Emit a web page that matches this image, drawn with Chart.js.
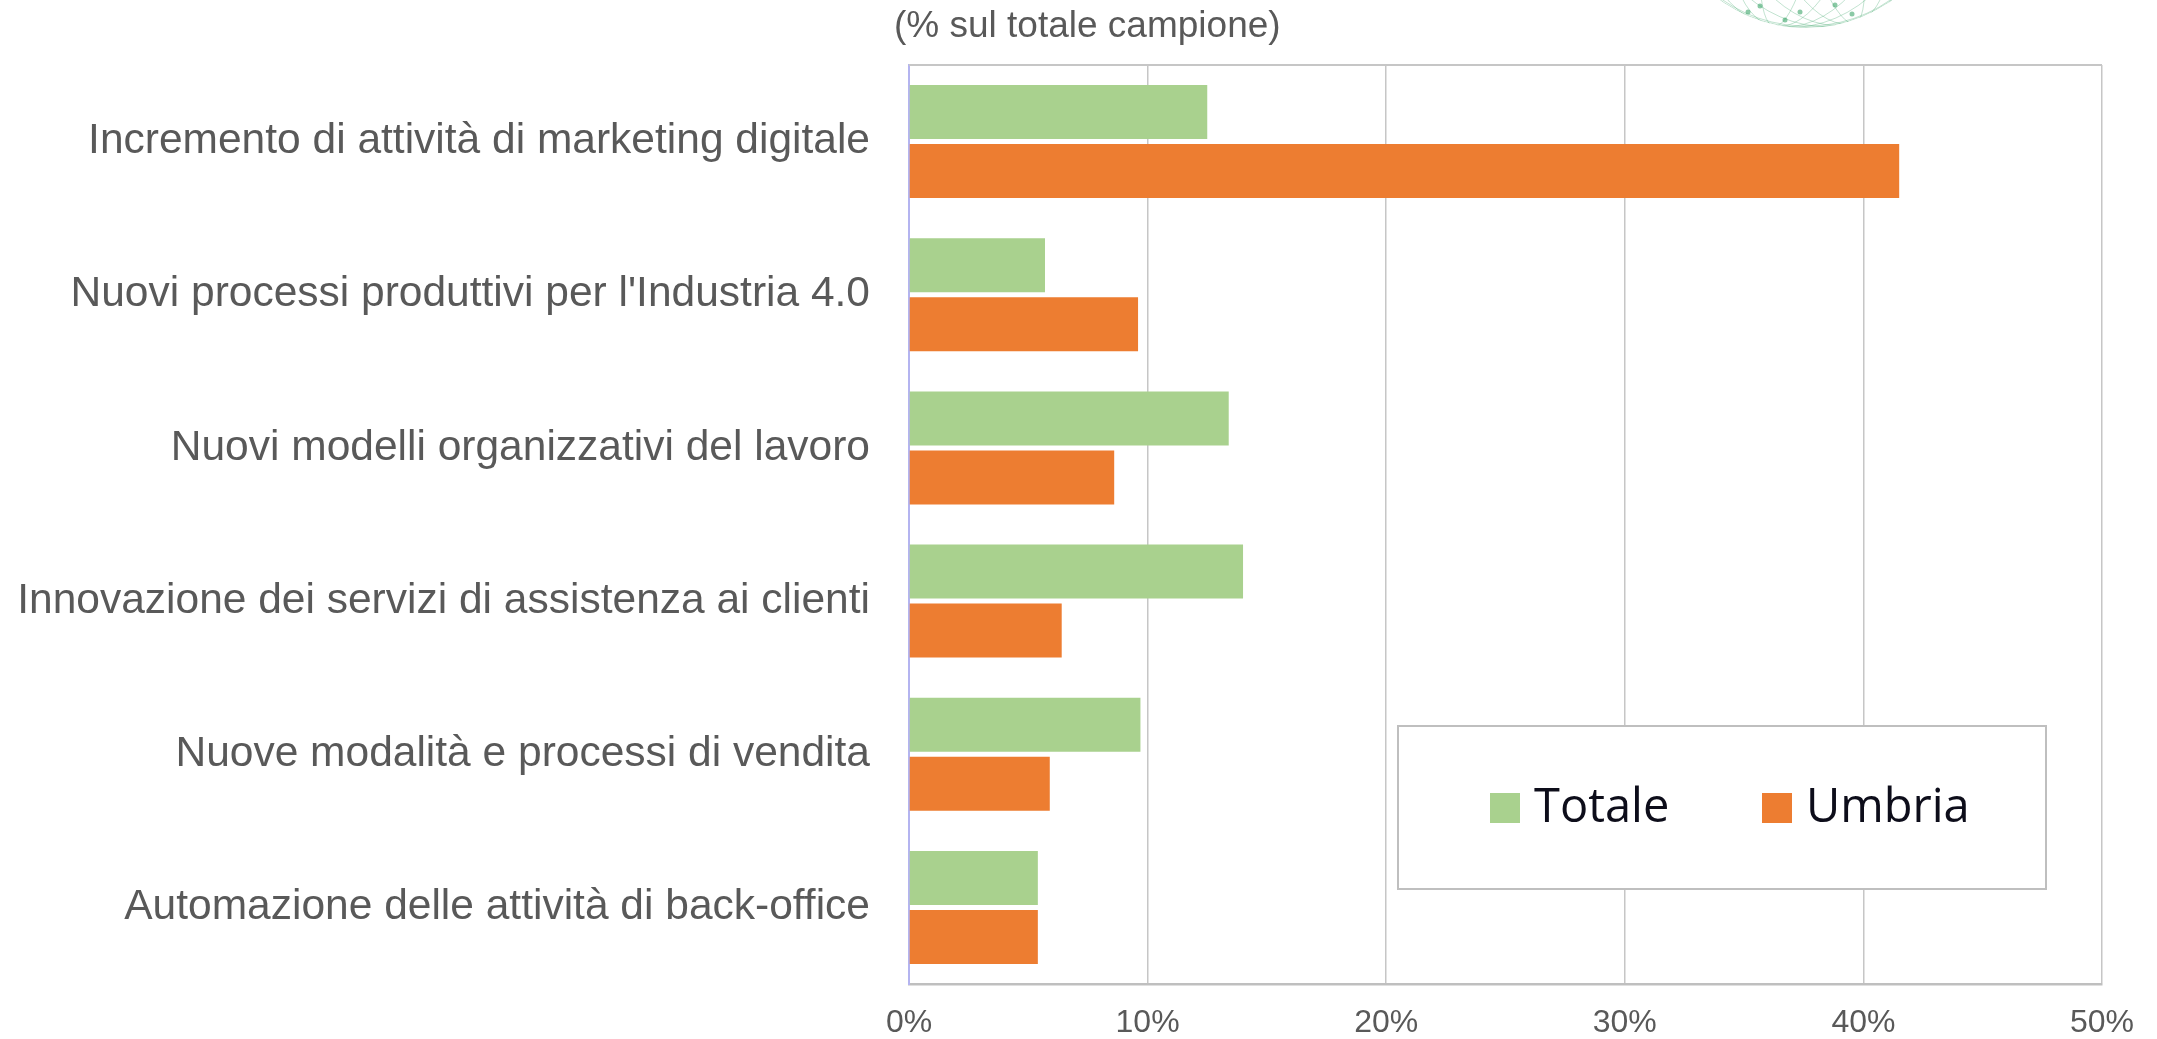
<!DOCTYPE html>
<html lang="it">
<head>
<meta charset="utf-8">
<title>Trasformazione digitale</title>
<script src="https://cdn.jsdelivr.net/npm/chart.js@4.4.1/dist/chart.umd.min.js"></script>
<style>
  html, body { margin: 0; padding: 0; background: #fff; }
  #wrap { width: 2157px; height: 1039px; }
</style>
</head>
<body>
<div id="wrap"><canvas id="chart" width="2157" height="1039"></canvas></div>
<script>
// Data (values in %)
const categories = [
    'Incremento di attività di marketing digitale',
    "Nuovi processi produttivi per l'Industria 4.0",
    'Nuovi modelli organizzativi del lavoro',
    'Innovazione dei servizi di assistenza ai clienti',
    'Nuove modalità e processi di vendita',
    'Automazione delle attività di back-office'
];
const totale = [12.5, 5.7, 13.4, 14.0, 9.7, 5.4];
const umbria = [41.5, 9.6, 8.6, 6.4, 5.9, 5.4];
const seriesNames = ['Totale', 'Umbria'];
const seriesColors = ['#A9D18E', '#ED7D31'];
const xTicks = [0, 10, 20, 30, 40, 50];
const subtitle = '(% sul totale campione)';

const labelGray = '#595959';
const gridGray = '#C6C6C6';

// Subtitle, faint globe in the corner, plot top border and the boxed legend
const decorations = {
    id: 'decorations',
    beforeDraw(chart) {
        const ctx = chart.ctx;
        ctx.save();
        ctx.fillStyle = '#fff';
        ctx.fillRect(0, 0, chart.width, chart.height);

        // globe logo, only its bottom is visible
        const cx = 1806, cy = -120, r = 148;
        ctx.beginPath();
        ctx.arc(cx, cy, r, 0, Math.PI * 2);
        ctx.clip();
        ctx.strokeStyle = 'rgba(80, 175, 120, 0.35)';
        ctx.lineWidth = 1;
        ctx.beginPath();
        ctx.arc(cx, cy, r - 0.5, 0, Math.PI * 2);
        ctx.stroke();
        [0.2, 0.45, 0.68, 0.86].forEach(k => {
            ctx.beginPath();
            ctx.ellipse(cx - 10, cy, r * k, r, 0.15, 0, Math.PI * 2);
            ctx.stroke();
            ctx.beginPath();
            ctx.ellipse(cx + 12, cy, r * k, r, -0.25, 0, Math.PI * 2);
            ctx.stroke();
        });
        [10, 30, 52].forEach(d => {
            ctx.beginPath();
            ctx.ellipse(cx, cy + d, r * 0.96, r * 0.92, 0.05, 0, Math.PI * 2);
            ctx.stroke();
        });
        ctx.fillStyle = 'rgba(60, 165, 105, 0.6)';
        [[1760, 6], [1800, 12], [1835, 5], [1852, 14], [1785, 20], [1748, 12]].forEach(p => {
            ctx.beginPath();
            ctx.arc(p[0], p[1], 2.5, 0, Math.PI * 2);
            ctx.fill();
        });
        ctx.restore();

        ctx.save();
        ctx.font = '37px "Liberation Sans", Arial, sans-serif';
        ctx.fillStyle = labelGray;
        ctx.textBaseline = 'alphabetic';
        ctx.fillText(subtitle, 894, 37);
        ctx.restore();
    },
    afterDatasetsDraw(chart) {
        const ctx = chart.ctx;
        const a = chart.chartArea;
        ctx.save();
        ctx.strokeStyle = gridGray;
        ctx.lineWidth = 2;
        ctx.beginPath();
        ctx.moveTo(a.left, a.top);
        ctx.lineTo(a.right, a.top);
        ctx.stroke();

        // legend box
        const box = { x: 1398, y: 726, w: 648, h: 163 };
        ctx.fillStyle = '#fff';
        ctx.fillRect(box.x, box.y, box.w, box.h);
        ctx.strokeStyle = '#BFBFBF';
        ctx.lineWidth = 2;
        ctx.strokeRect(box.x, box.y, box.w, box.h);

        ctx.font = '47px "Open Sans", "Noto Sans", sans-serif';
        ctx.textBaseline = 'middle';
        const itemX = [box.x + 92, box.x + 364];
        const midY = box.y + 82;
        chart.data.datasets.forEach((ds, i) => {
            ctx.fillStyle = ds.backgroundColor;
            ctx.fillRect(itemX[i], midY - 15, 30, 30);
            ctx.fillStyle = '#0D0D1A';
            ctx.fillText(ds.label, itemX[i] + 44, midY + 1);
        });
        ctx.restore();
    }
};

new Chart(document.getElementById('chart'), {
    type: 'bar',
    data: {
        labels: categories,
        datasets: [
            { label: seriesNames[0], data: totale, backgroundColor: seriesColors[0] },
            { label: seriesNames[1], data: umbria, backgroundColor: seriesColors[1] }
        ]
    },
    options: {
        indexAxis: 'y',
        responsive: false,
        animation: false,
        barPercentage: 0.915,
        categoryPercentage: 0.77,
        layout: { padding: { top: 65, right: 55, left: 0, bottom: 0 } },
        plugins: {
            legend: { display: false },
            title: { display: false },
            tooltip: { enabled: false }
        },
        scales: {
            x: {
                min: xTicks[0],
                max: xTicks[xTicks.length - 1],
                afterBuildTicks(scale) {
                    scale.ticks = xTicks.map(v => ({ value: v }));
                },
                afterFit(scale) { scale.height = 55; },
                grid: { color: gridGray, lineWidth: 1.5, drawTicks: false },
                border: { color: '#BFBFBF', width: 2.5 },
                ticks: {
                    padding: 20,
                    color: labelGray,
                    font: { family: '"Liberation Sans", Arial, sans-serif', size: 32 },
                    callback: v => v + '%'
                }
            },
            y: {
                afterFit(scale) {
                    scale.width = 909;
                    scale.paddingTop = 0;
                    scale.paddingBottom = 0;
                },
                grid: { display: false, drawTicks: false },
                border: { color: '#B4B4F0', width: 2 },
                ticks: {
                    padding: 39,
                    color: labelGray,
                    font: { family: '"Liberation Sans", Arial, sans-serif', size: 42.5 }
                }
            }
        }
    },
    plugins: [decorations]
});
</script>
</body>
</html>
